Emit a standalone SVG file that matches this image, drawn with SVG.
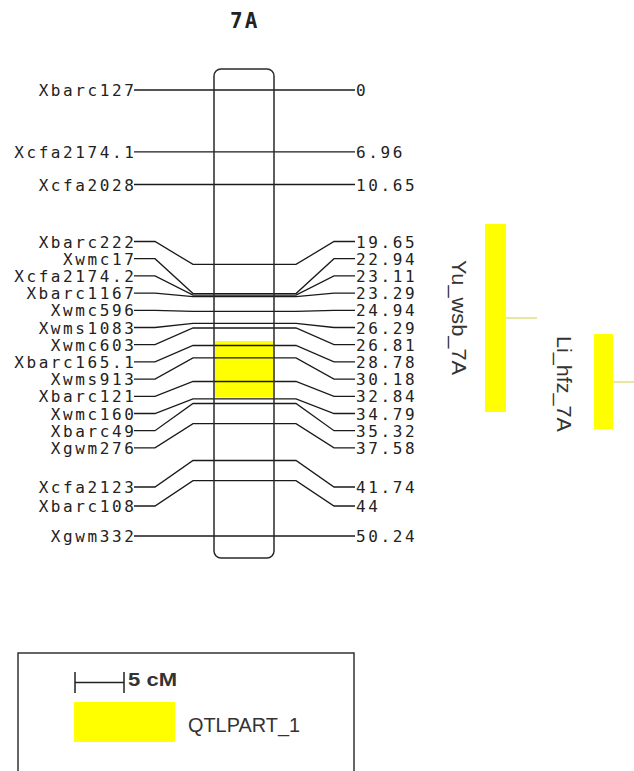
<svg xmlns="http://www.w3.org/2000/svg" width="634" height="771" viewBox="0 0 634 771">
<style>
.lbl{font-family:"DejaVu Sans Mono","Liberation Mono",monospace;font-size:16px;letter-spacing:2.6px;fill:#222}
.l{text-anchor:end}
.ln{stroke:#1a1a1a;stroke-width:1.3;fill:none}
.qt{fill:#ffff00}
.qlab{font-family:"Liberation Sans",Arial,sans-serif;font-size:21px;fill:#333;text-anchor:middle}
.title{font-family:"DejaVu Sans Mono",monospace;font-size:21px;font-weight:bold;letter-spacing:2px;fill:#222}
.leg{font-family:"Liberation Sans",Arial,sans-serif;fill:#333}
</style>
<rect width="634" height="771" fill="#fff"/>
<g id="title"><text class="title" x="230" y="28">7A</text></g>
<g id="chromosome-fill">
<rect x="214" y="69" width="60" height="489" rx="7" fill="#fff"/>
<rect x="215" y="341" width="58" height="56" class="qt"/>
</g>
<g id="connectors">
<path class="ln" d="M134,90H355"/>
<path class="ln" d="M134,151.8H355"/>
<path class="ln" d="M134,184.5H355"/>
<path class="ln" d="M134,241.5H155L193,264.4H296L334,241.5H355"/>
<path class="ln" d="M134,258.7H155L193,293.6H296L334,258.7H355"/>
<path class="ln" d="M134,275.9H155L193,295.1H296L334,275.9H355"/>
<path class="ln" d="M134,293.1H155L193,296.7H296L334,293.1H355"/>
<path class="ln" d="M134,310.3H155L193,311.4H296L334,310.3H355"/>
<path class="ln" d="M134,327.5H155L193,323.4H296L334,327.5H355"/>
<path class="ln" d="M134,344.7H155L193,328H296L334,344.7H355"/>
<path class="ln" d="M134,361.9H155L193,345.5H296L334,361.9H355"/>
<path class="ln" d="M134,379.1H155L193,357.9H296L334,379.1H355"/>
<path class="ln" d="M134,396.3H155L193,381.5H296L334,396.3H355"/>
<path class="ln" d="M134,413.5H155L193,398.8H296L334,413.5H355"/>
<path class="ln" d="M134,430.7H155L193,403.5H296L334,430.7H355"/>
<path class="ln" d="M134,447.9H155L193,423.6H296L334,447.9H355"/>
<path class="ln" d="M134,487H155L193,460.5H296L334,487H355"/>
<path class="ln" d="M134,506H155L193,480.6H296L334,506H355"/>
<path class="ln" d="M134,536H355"/>
<path d="M506,318H537" stroke="#d8d860" stroke-width="1.2"/>
<path d="M613,382H634" stroke="#d8d860" stroke-width="1.2"/>
</g>
<g id="chromosome">
<rect x="214" y="69" width="60" height="489" rx="7" fill="none" stroke="#2a2a2a" stroke-width="1.5"/>
</g>
<g id="m-Xbarc127"><text class="lbl l" x="136.5" y="96">Xbarc127</text><text class="lbl" x="356" y="96">0</text></g>
<g id="m-Xcfa2174.1"><text class="lbl l" x="136.5" y="157.8">Xcfa2174.1</text><text class="lbl" x="356" y="157.8">6.96</text></g>
<g id="m-Xcfa2028"><text class="lbl l" x="136.5" y="190.5">Xcfa2028</text><text class="lbl" x="356" y="190.5">10.65</text></g>
<g id="m-Xbarc222"><text class="lbl l" x="136.5" y="247.5">Xbarc222</text><text class="lbl" x="356" y="247.5">19.65</text></g>
<g id="m-Xwmc17"><text class="lbl l" x="136.5" y="264.7">Xwmc17</text><text class="lbl" x="356" y="264.7">22.94</text></g>
<g id="m-Xcfa2174.2"><text class="lbl l" x="136.5" y="281.9">Xcfa2174.2</text><text class="lbl" x="356" y="281.9">23.11</text></g>
<g id="m-Xbarc1167"><text class="lbl l" x="136.5" y="299.1">Xbarc1167</text><text class="lbl" x="356" y="299.1">23.29</text></g>
<g id="m-Xwmc596"><text class="lbl l" x="136.5" y="316.3">Xwmc596</text><text class="lbl" x="356" y="316.3">24.94</text></g>
<g id="m-Xwms1083"><text class="lbl l" x="136.5" y="333.5">Xwms1083</text><text class="lbl" x="356" y="333.5">26.29</text></g>
<g id="m-Xwmc603"><text class="lbl l" x="136.5" y="350.7">Xwmc603</text><text class="lbl" x="356" y="350.7">26.81</text></g>
<g id="m-Xbarc165.1"><text class="lbl l" x="136.5" y="367.9">Xbarc165.1</text><text class="lbl" x="356" y="367.9">28.78</text></g>
<g id="m-Xwms913"><text class="lbl l" x="136.5" y="385.1">Xwms913</text><text class="lbl" x="356" y="385.1">30.18</text></g>
<g id="m-Xbarc121"><text class="lbl l" x="136.5" y="402.3">Xbarc121</text><text class="lbl" x="356" y="402.3">32.84</text></g>
<g id="m-Xwmc160"><text class="lbl l" x="136.5" y="419.5">Xwmc160</text><text class="lbl" x="356" y="419.5">34.79</text></g>
<g id="m-Xbarc49"><text class="lbl l" x="136.5" y="436.7">Xbarc49</text><text class="lbl" x="356" y="436.7">35.32</text></g>
<g id="m-Xgwm276"><text class="lbl l" x="136.5" y="453.9">Xgwm276</text><text class="lbl" x="356" y="453.9">37.58</text></g>
<g id="m-Xcfa2123"><text class="lbl l" x="136.5" y="493">Xcfa2123</text><text class="lbl" x="356" y="493">41.74</text></g>
<g id="m-Xbarc108"><text class="lbl l" x="136.5" y="512">Xbarc108</text><text class="lbl" x="356" y="512">44</text></g>
<g id="m-Xgwm332"><text class="lbl l" x="136.5" y="542">Xgwm332</text><text class="lbl" x="356" y="542">50.24</text></g>
<g id="qtl-Yu_wsb_7A">
<rect class="qt" x="485" y="224" width="21" height="188"/>
<text class="qlab" transform="translate(452,317.5) rotate(90)" textLength="115" lengthAdjust="spacingAndGlyphs">Yu_wsb_7A</text>
</g>
<g id="qtl-Li_hfz_7A">
<rect class="qt" x="594" y="334" width="19" height="95"/>
<text class="qlab" transform="translate(557,384) rotate(90)" textLength="96" lengthAdjust="spacingAndGlyphs">Li_hfz_7A</text>
</g>
<g id="legend">
<rect x="18" y="653" width="336" height="140" fill="none" stroke="#333" stroke-width="1.5"/>
<path d="M75,682.5H124M75,672V693M124,672V693" stroke="#222" stroke-width="1.5" fill="none"/>
<text class="leg" x="128" y="686" font-size="18" font-weight="bold" fill="#444" textLength="49" lengthAdjust="spacingAndGlyphs">5 cM</text>
<rect class="qt" x="74" y="702" width="101" height="40"/>
<text class="leg" x="188" y="732" font-size="20" textLength="112" lengthAdjust="spacingAndGlyphs">QTLPART_1</text>
</g>
</svg>
